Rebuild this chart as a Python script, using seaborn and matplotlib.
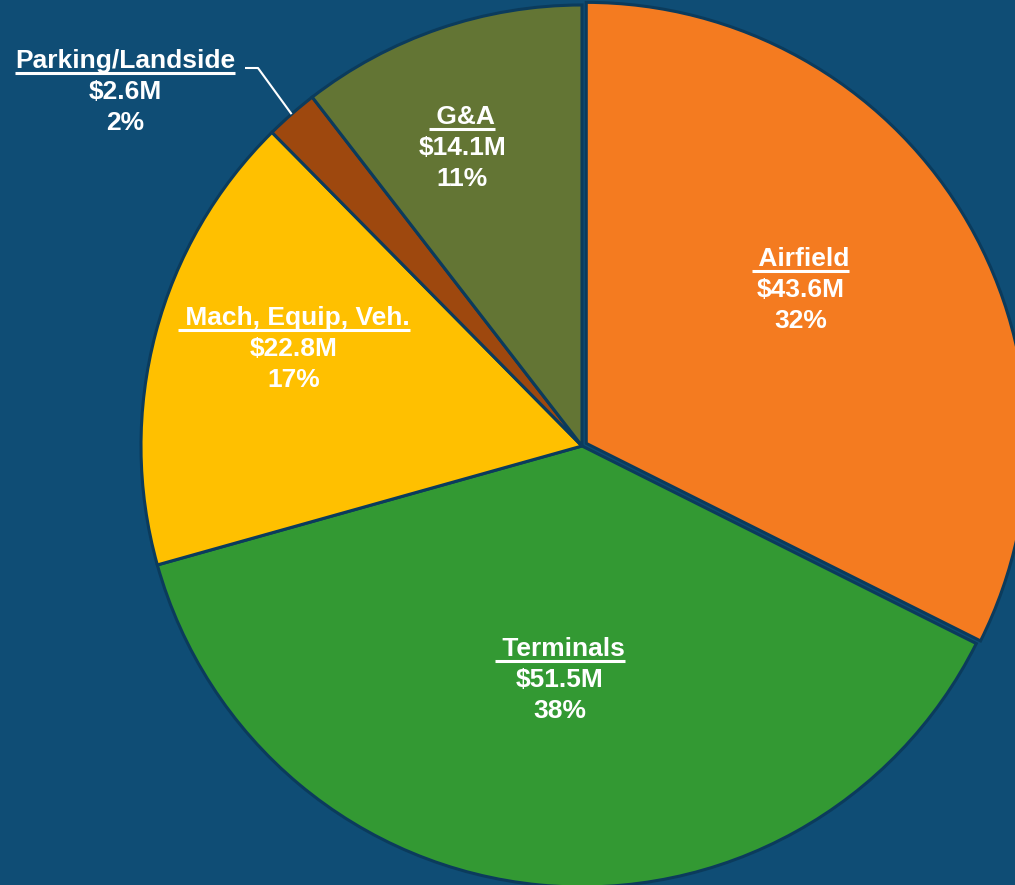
import numpy as np
import seaborn as sns
import matplotlib.pyplot as plt

categories = ['Airfield', 'Terminals', 'Mach, Equip, Veh.', 'Parking/Landside', 'G&A']
values = [43.6, 51.5, 22.8, 2.6, 14.1]
pct_labels = ['32%', '38%', '17%', '2%', '11%']
colors = ['#F47B20', '#339933', '#FFC000', '#9E480E', '#637534']

BG = '#0F4D75'
EDGE = '#0B3B5C'

sns.set_theme(style='white')
plt.rcParams['font.family'] = ['Liberation Sans', 'DejaVu Sans']

W, H = 1015, 885
fig = plt.figure(figsize=(W / 100, H / 100), dpi=100)
fig.patch.set_facecolor(BG)
ax = fig.add_axes([0, 0, 1, 1])
ax.set_facecolor(BG)

cx, cy, R = 582, H - 446, 441
# explode is in data units here (pixels)
wedges, _ = ax.pie(values, colors=colors, startangle=90, counterclock=False,
                   explode=[5, 0, 0, 0, 0], center=(cx, cy), radius=R,
                   wedgeprops=dict(edgecolor=EDGE, linewidth=2.2), frame=True)
ax.set_xlim(0, W)
ax.set_ylim(0, H)
ax.set_aspect('equal')
ax.axis('off')

# label placement: radial fraction and small angle tweak per slice
label_r = [0.61, 0.53, 0.69, None, 0.73]
label_dang = [4, 0, -4, 0, 3]
fs = 19
line_gap = 31

underlines = []
for i, w in enumerate(wedges):
    mid = np.deg2rad((w.theta1 + w.theta2) / 2)
    if label_r[i] is None:
        x, y = 125, H - 91
        # leader line from label to slice edge
        ex, ey = cx + R * np.cos(mid), cy + R * np.sin(mid)
        ax.plot([245, 258, ex], [H - 68, H - 68, ey], color='white', lw=1.5,
                solid_capstyle='butt')
        first = categories[i]
    else:
        ang = mid + np.deg2rad(label_dang[i])
        x = cx + label_r[i] * R * np.cos(ang)
        y = cy + label_r[i] * R * np.sin(ang)
        first = ' ' + categories[i]
    t1 = ax.text(x, y + line_gap - 8, first, color='white', fontsize=fs,
                 fontweight='bold', ha='center', va='baseline')
    ax.text(x, y - 8, f'${values[i]}M', color='white', fontsize=fs,
            fontweight='bold', ha='center', va='baseline')
    ax.text(x, y - line_gap - 8, pct_labels[i], color='white', fontsize=fs,
            fontweight='bold', ha='center', va='baseline')
    underlines.append((t1, y + line_gap - 8))

fig.canvas.draw()
inv = ax.transData.inverted()
for t, base in underlines:
    bb = t.get_window_extent()
    (x0, _), (x1, _) = inv.transform([[bb.x0, bb.y0], [bb.x1, bb.y1]])
    ax.plot([x0, x1], [base - 5, base - 5], color='white', lw=2.2,
            solid_capstyle='butt')

fig.savefig('out.png', dpi=100, facecolor=BG)
